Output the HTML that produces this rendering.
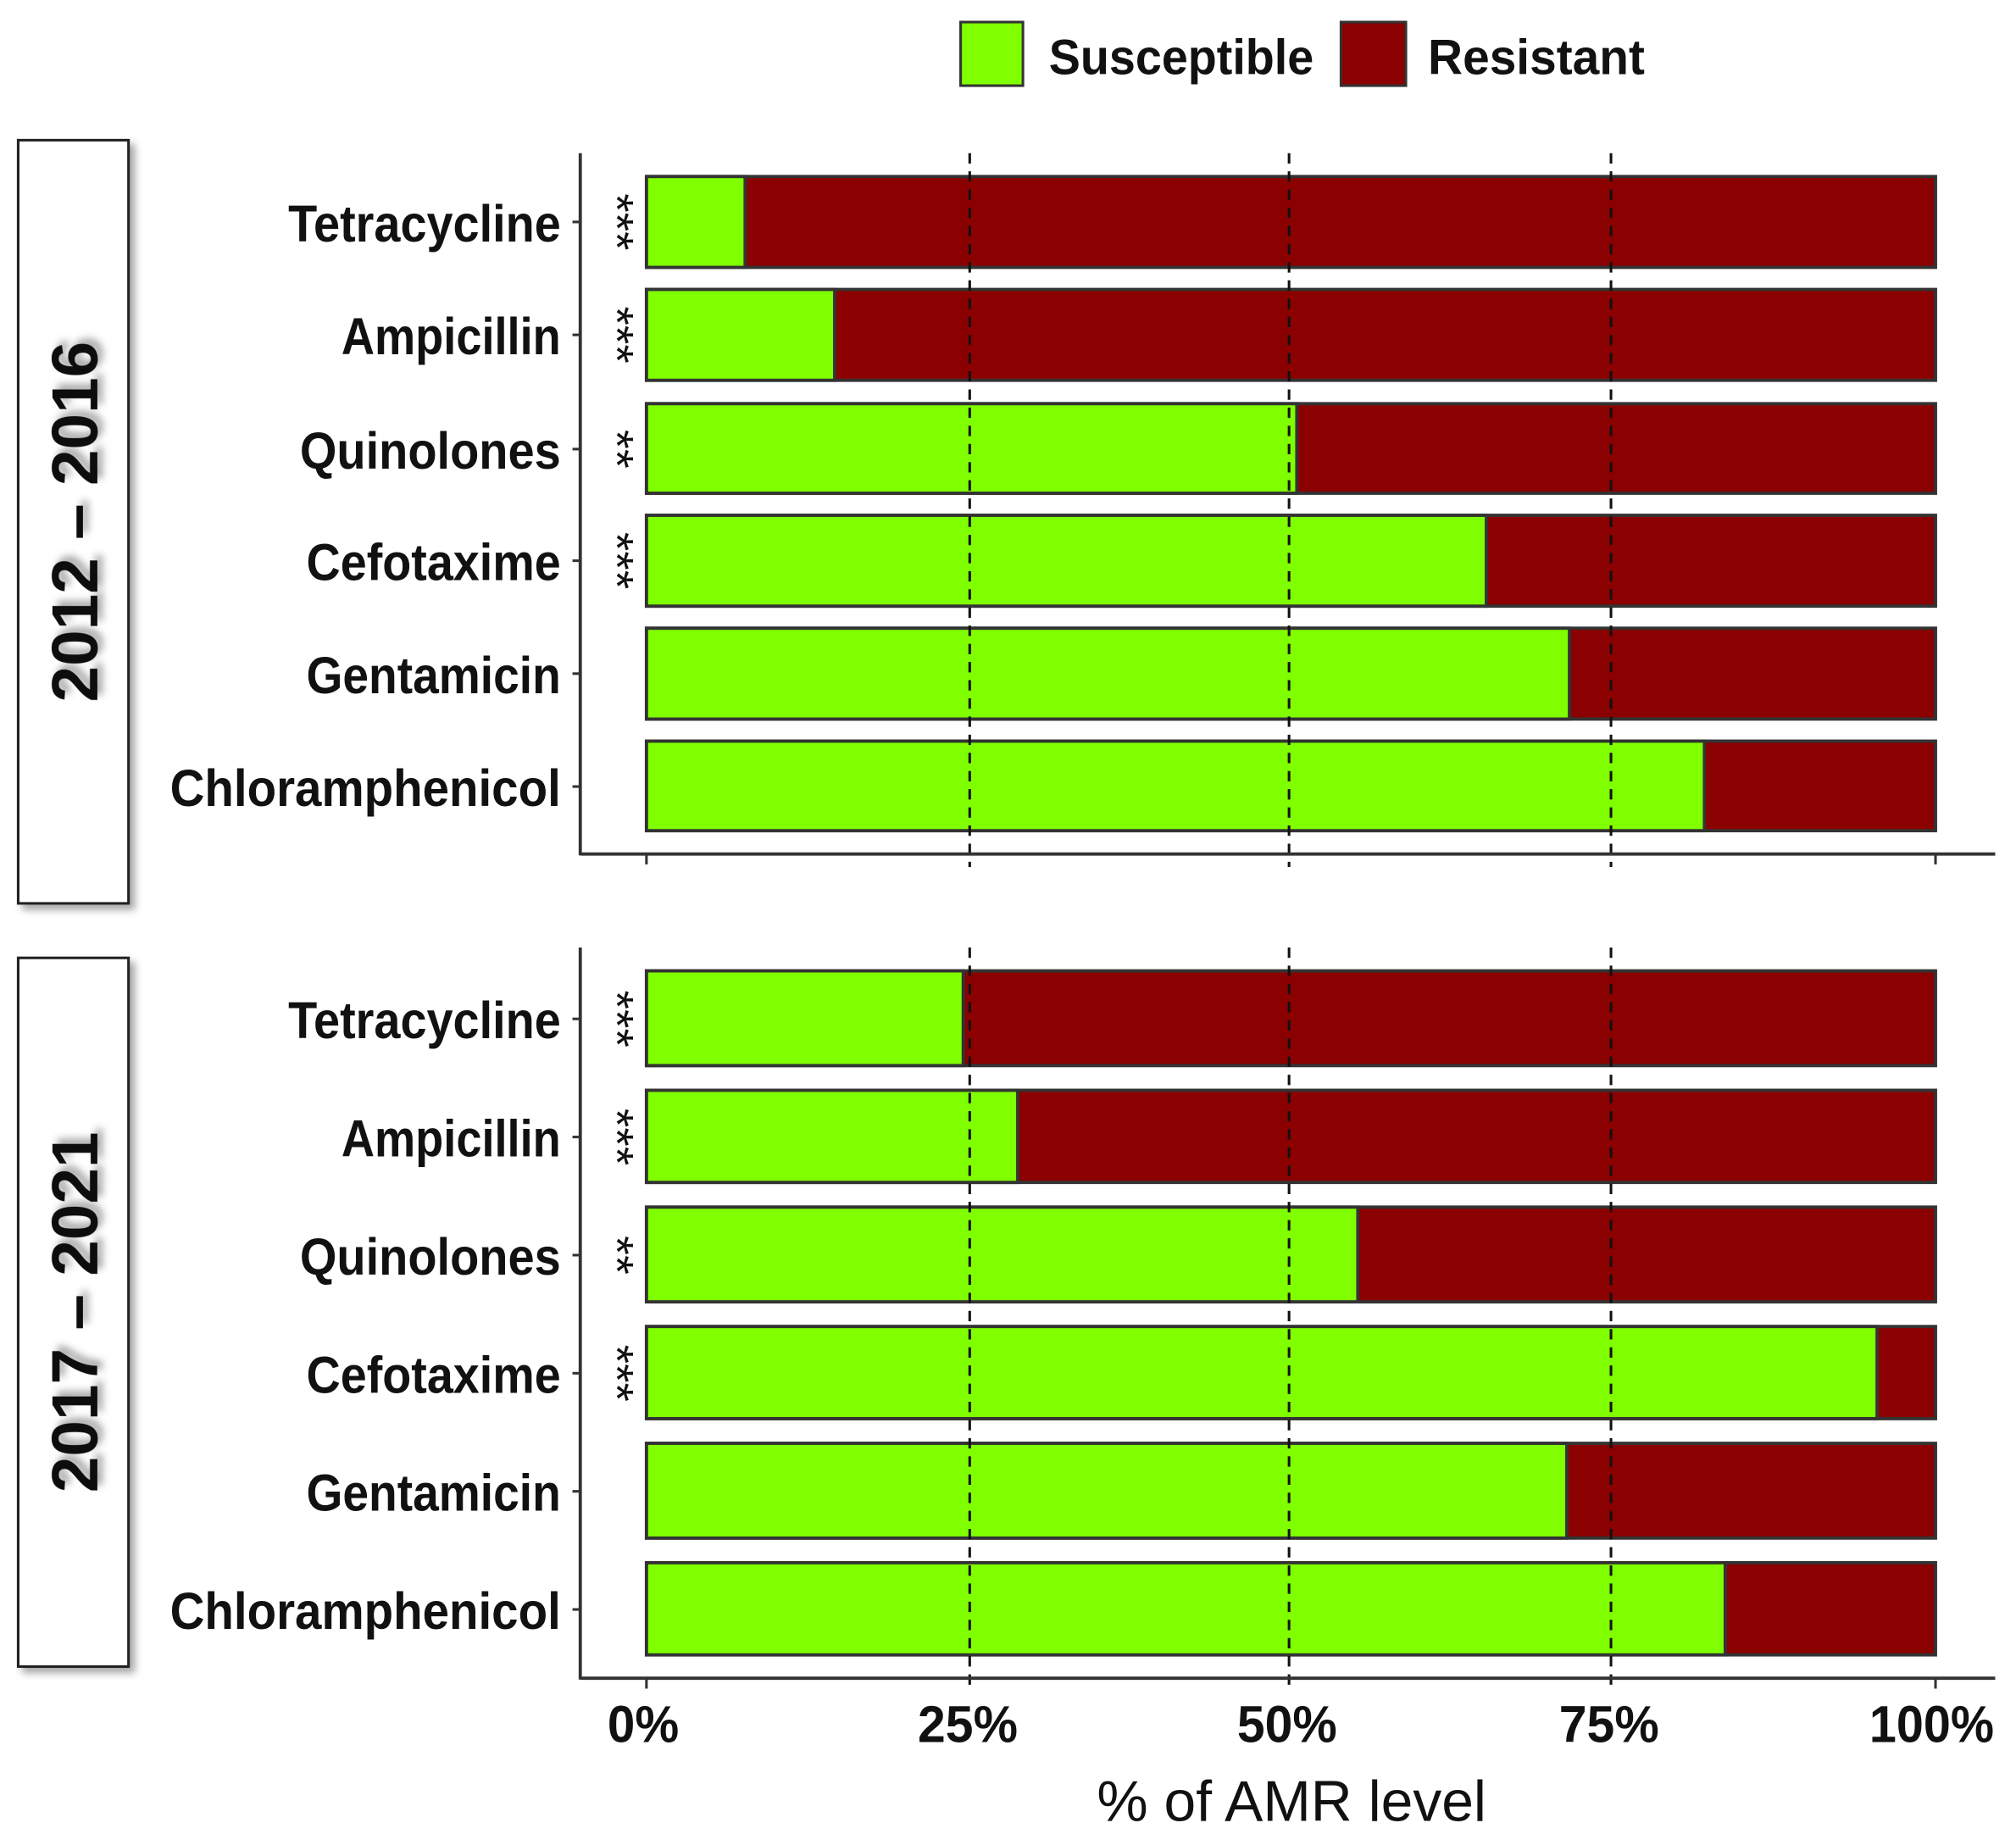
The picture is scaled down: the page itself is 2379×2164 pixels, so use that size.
<!DOCTYPE html>
<html><head><style>
html,body{margin:0;padding:0;background:#fff;}
svg{display:block;}
text{font-family:"Liberation Sans",Arial,sans-serif;}
</style></head><body>
<svg width="2379" height="2164" viewBox="0 0 1553 1413" preserveAspectRatio="none" xmlns="http://www.w3.org/2000/svg">
<defs>
<filter id="sh" x="-20%" y="-20%" width="150%" height="150%"><feDropShadow dx="4" dy="4" stdDeviation="3" flood-color="#000" flood-opacity="0.35"/></filter>
</defs>
<rect width="1553" height="1413" fill="#fff"/>
<rect x="740" y="17" width="48" height="49" fill="#7fff00" stroke="#333" stroke-width="2"/>
<text x="808" y="57" font-size="38" font-weight="bold" fill="#111" textLength="204" lengthAdjust="spacingAndGlyphs">Susceptible</text>
<rect x="1033" y="17" width="50" height="49" fill="#8b0000" stroke="#333" stroke-width="2"/>
<text x="1100" y="57" font-size="38" font-weight="bold" fill="#111" textLength="167" lengthAdjust="spacingAndGlyphs">Resistant</text>

<rect x="14" y="108" width="85" height="588" fill="#fff" stroke="#222" stroke-width="2" filter="url(#sh)"/>
<text transform="translate(75,402) rotate(-90)" text-anchor="middle" font-size="50" font-weight="bold" fill="#111" filter="url(#sh)" textLength="278" lengthAdjust="spacingAndGlyphs">2012 – 2016</text>
<rect x="14" y="738" width="85" height="546" fill="#fff" stroke="#222" stroke-width="2" filter="url(#sh)"/>
<text transform="translate(75,1011) rotate(-90)" text-anchor="middle" font-size="50" font-weight="bold" fill="#111" filter="url(#sh)" textLength="278" lengthAdjust="spacingAndGlyphs">2017 – 2021</text>

<g stroke="#333" stroke-width="2.5">
<rect x="498" y="136" width="993" height="70" fill="#8b0000"/><rect x="498" y="136" width="76" height="70" fill="#7fff00"/>
<rect x="498" y="223" width="993" height="70" fill="#8b0000"/><rect x="498" y="223" width="145" height="70" fill="#7fff00"/>
<rect x="498" y="311" width="993" height="69" fill="#8b0000"/><rect x="498" y="311" width="501" height="69" fill="#7fff00"/>
<rect x="498" y="397" width="993" height="70" fill="#8b0000"/><rect x="498" y="397" width="647" height="70" fill="#7fff00"/>
<rect x="498" y="484" width="993" height="70" fill="#8b0000"/><rect x="498" y="484" width="711" height="70" fill="#7fff00"/>
<rect x="498" y="571" width="993" height="69" fill="#8b0000"/><rect x="498" y="571" width="815" height="69" fill="#7fff00"/>
</g>
<g stroke="#111" stroke-width="2" stroke-dasharray="8,6">
<line x1="747" y1="118" x2="747" y2="668"/><line x1="993" y1="118" x2="993" y2="668"/><line x1="1241" y1="118" x2="1241" y2="668"/>
</g>
<g stroke="#333" stroke-width="2.5"><line x1="447" y1="118" x2="447" y2="659"/><line x1="447" y1="658" x2="1537" y2="658"/></g>
<g stroke="#333" stroke-width="2"><line x1="498" y1="658" x2="498" y2="666"/><line x1="1491" y1="658" x2="1491" y2="666"/>
<line x1="441" y1="171" x2="447" y2="171"/><line x1="441" y1="258" x2="447" y2="258"/><line x1="441" y1="346" x2="447" y2="346"/><line x1="441" y1="432" x2="447" y2="432"/><line x1="441" y1="519" x2="447" y2="519"/><line x1="441" y1="606" x2="447" y2="606"/></g>
<g font-size="40" font-weight="bold" fill="#111">
<text x="222" y="186" textLength="210" lengthAdjust="spacingAndGlyphs">Tetracycline</text>
<text x="263" y="273" textLength="169" lengthAdjust="spacingAndGlyphs">Ampicillin</text>
<text x="231" y="361" textLength="201" lengthAdjust="spacingAndGlyphs">Quinolones</text>
<text x="236" y="447" textLength="196" lengthAdjust="spacingAndGlyphs">Cefotaxime</text>
<text x="236" y="534" textLength="196" lengthAdjust="spacingAndGlyphs">Gentamicin</text>
<text x="131" y="621" textLength="301" lengthAdjust="spacingAndGlyphs">Chloramphenicol</text>
</g>
<g font-size="36" fill="#111" text-anchor="middle">
<text transform="translate(463,171) rotate(90)" textLength="44" lengthAdjust="spacingAndGlyphs">***</text>
<text transform="translate(463,258) rotate(90)" textLength="44" lengthAdjust="spacingAndGlyphs">***</text>
<text transform="translate(463,346) rotate(90)" textLength="30" lengthAdjust="spacingAndGlyphs">**</text>
<text transform="translate(463,432) rotate(90)" textLength="44" lengthAdjust="spacingAndGlyphs">***</text>
</g>

<g stroke="#333" stroke-width="2.5">
<rect x="498" y="748" width="993" height="73" fill="#8b0000"/><rect x="498" y="748" width="244" height="73" fill="#7fff00"/>
<rect x="498" y="840" width="993" height="71" fill="#8b0000"/><rect x="498" y="840" width="286" height="71" fill="#7fff00"/>
<rect x="498" y="930" width="993" height="73" fill="#8b0000"/><rect x="498" y="930" width="548" height="73" fill="#7fff00"/>
<rect x="498" y="1022" width="993" height="71" fill="#8b0000"/><rect x="498" y="1022" width="948" height="71" fill="#7fff00"/>
<rect x="498" y="1112" width="993" height="73" fill="#8b0000"/><rect x="498" y="1112" width="709" height="73" fill="#7fff00"/>
<rect x="498" y="1204" width="993" height="71" fill="#8b0000"/><rect x="498" y="1204" width="831" height="71" fill="#7fff00"/>
</g>
<g stroke="#111" stroke-width="2" stroke-dasharray="8,6">
<line x1="747" y1="730" x2="747" y2="1303"/><line x1="993" y1="730" x2="993" y2="1303"/><line x1="1241" y1="730" x2="1241" y2="1303"/>
</g>
<g stroke="#333" stroke-width="2.5"><line x1="447" y1="730" x2="447" y2="1294"/><line x1="447" y1="1293" x2="1537" y2="1293"/></g>
<g stroke="#333" stroke-width="2"><line x1="498" y1="1293" x2="498" y2="1301"/><line x1="1491" y1="1293" x2="1491" y2="1301"/>
<line x1="441" y1="785" x2="447" y2="785"/><line x1="441" y1="876" x2="447" y2="876"/><line x1="441" y1="967" x2="447" y2="967"/><line x1="441" y1="1058" x2="447" y2="1058"/><line x1="441" y1="1149" x2="447" y2="1149"/><line x1="441" y1="1240" x2="447" y2="1240"/></g>
<g font-size="40" font-weight="bold" fill="#111">
<text x="222" y="800" textLength="210" lengthAdjust="spacingAndGlyphs">Tetracycline</text>
<text x="263" y="891" textLength="169" lengthAdjust="spacingAndGlyphs">Ampicillin</text>
<text x="231" y="982" textLength="201" lengthAdjust="spacingAndGlyphs">Quinolones</text>
<text x="236" y="1073" textLength="196" lengthAdjust="spacingAndGlyphs">Cefotaxime</text>
<text x="236" y="1164" textLength="196" lengthAdjust="spacingAndGlyphs">Gentamicin</text>
<text x="131" y="1255" textLength="301" lengthAdjust="spacingAndGlyphs">Chloramphenicol</text>
</g>
<g font-size="36" fill="#111" text-anchor="middle">
<text transform="translate(463,785) rotate(90)" textLength="44" lengthAdjust="spacingAndGlyphs">***</text>
<text transform="translate(463,876) rotate(90)" textLength="44" lengthAdjust="spacingAndGlyphs">***</text>
<text transform="translate(463,967) rotate(90)" textLength="30" lengthAdjust="spacingAndGlyphs">**</text>
<text transform="translate(463,1058) rotate(90)" textLength="44" lengthAdjust="spacingAndGlyphs">***</text>
</g>

<g font-size="40" font-weight="bold" fill="#111">
<text x="468" y="1342" textLength="55" lengthAdjust="spacingAndGlyphs">0%</text>
<text x="707" y="1342" textLength="77" lengthAdjust="spacingAndGlyphs">25%</text>
<text x="953" y="1342" textLength="77" lengthAdjust="spacingAndGlyphs">50%</text>
<text x="1201" y="1342" textLength="77" lengthAdjust="spacingAndGlyphs">75%</text>
<text x="1440" y="1342" textLength="96" lengthAdjust="spacingAndGlyphs">100%</text>
</g>
<text x="845" y="1403" font-size="44" fill="#111" textLength="300" lengthAdjust="spacingAndGlyphs">% of AMR level</text>
</svg>
</body></html>
